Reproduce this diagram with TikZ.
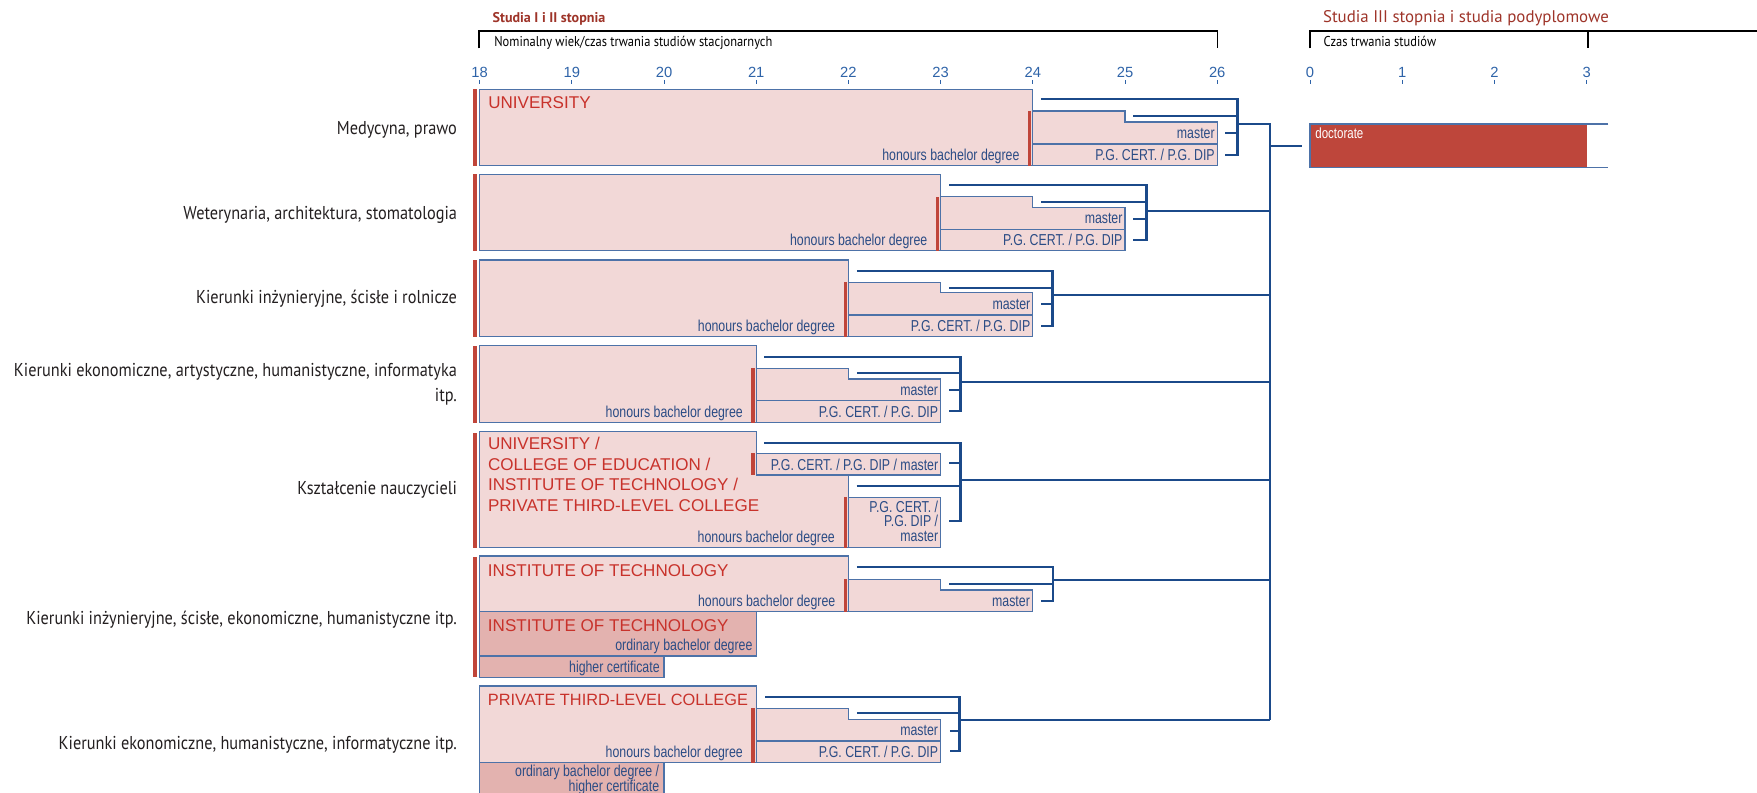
\documentclass[tikz,border=0pt]{standalone}
\usepackage{fontspec}
\usepackage{xcolor}
\setmainfont{PT Sans}[FakeStretch=0.875]
\newfontfamily\headfont{PT Sans}
\newfontfamily\capsfont{Liberation Sans}
\newfontfamily\narrowfont{Liberation Sans}[FakeStretch=0.78]
\definecolor{pinkfill}{HTML}{F2D8D7}
\definecolor{darkpink}{HTML}{E3B2AF}
\definecolor{boxline}{HTML}{4D72A8}
\definecolor{barred}{HTML}{C0453A}
\definecolor{linkblue}{HTML}{1B4A8A}
\definecolor{textblue}{HTML}{2B4C85}
\definecolor{tickblue}{HTML}{2E63A8}
\definecolor{capsred}{HTML}{C8322B}
\definecolor{titlered}{HTML}{9E3429}
\definecolor{docred}{HTML}{BE463B}
\definecolor{labelink}{HTML}{231F20}
\tikzset{
  % boxes of one study path
  studybox/.style={draw=boxline, fill=pinkfill, line width=0.6pt},
  lowbox/.style={draw=boxline, fill=darkpink, line width=0.6pt},
  split/.style={draw=boxline, line width=0.6pt},
  redbar/.style={fill=barred, draw=none},
  % connectors
  link/.style={draw=linkblue, line width=1.3pt},
  bracket/.style={draw=black, line width=1pt},
  tickmark/.style={draw=tickblue, line width=0.5pt},
  % texts
  rowlbl/.style={font=\fontsize{10.6}{14}\selectfont, text=labelink, inner sep=0pt, anchor=base east},
  inst/.style={font=\capsfont\fontsize{9.7}{11.8}\selectfont, text=capsred, inner sep=0pt, anchor=base west},
  deg/.style={font=\narrowfont\fontsize{9}{10}\selectfont, text=textblue, inner sep=0pt, anchor=base east},
  agenum/.style={font=\capsfont\fontsize{8.4}{9}\selectfont, text=tickblue, inner sep=0pt, anchor=base},
  subhead/.style={font=\fontsize{8.1}{9}\selectfont, text=black, inner sep=0pt, anchor=base west},
}

\begin{document}
\begin{tikzpicture}[x=0.02cm, y=-0.02cm]
  \useasboundingbox (0,0) rectangle (1757,793);

  % headers
  \node[font=\headfont\bfseries\fontsize{8}{9}\selectfont, text=titlered, inner sep=0pt, anchor=base west] (head1) at (492.3,22.7) {Studia I i II stopnia};
  \node[font=\headfont\fontsize{9.6}{10}\selectfont, text=titlered, inner sep=0pt, anchor=base west] (head2) at (1322.7,22.7) {Studia III stopnia i studia podyplomowe};
  \node[subhead] (sub1) at (494,47) {Nominalny wiek/czas trwania studiów stacjonarnych};
  \node[subhead] (sub2) at (1323.3,47) {Czas trwania studiów};
  \draw[bracket] (478.8,48.3) -- (478.8,30.7) -- (1217.5,30.7) -- (1217.5,48.3);
  \draw[bracket] (1310,48.3) -- (1310,30.7) -- (1757,30.7);
  \draw[bracket] (1587.7,30.7) -- (1587.7,48.3);

  % age scale and duration scale
  \foreach \a [count=\i from 0] in {18,...,26} {
    \node[agenum] (age\a) at ({479.6+\i*92.2},77.3) {\a};
    \draw[tickmark] ({479.6+\i*92.2},80) -- ({479.6+\i*92.2},84);
  }
  \foreach \d in {0,...,3} {
    \node[agenum] (dur\d) at ({1310+\d*92.2},77.3) {\d};
    \draw[tickmark] ({1310+\d*92.2},80) -- ({1310+\d*92.2},84);
  }

  % row labels
  \node[rowlbl] (lbl1) at (457.3,134.3) {Medycyna, prawo};
  \node[rowlbl] (lbl2) at (457.3,219.3) {Weterynaria, architektura, stomatologia};
  \node[rowlbl] (lbl3) at (457.3,303.3) {Kierunki inżynieryjne, ścisłe i rolnicze};
  \node[rowlbl] (lbl4a) at (457.3,376.7) {Kierunki ekonomiczne, artystyczne, humanistyczne, informatyka};
  \node[rowlbl] (lbl4b) at (457.3,401.7) {itp.};
  \node[rowlbl] (lbl5) at (457.3,494) {Kształcenie nauczycieli};
  \node[rowlbl] (lbl6) at (457.3,624) {Kierunki inżynieryjne, ścisłe, ekonomiczne, humanistyczne itp.};
  \node[rowlbl] (lbl7) at (457.3,749.3) {Kierunki ekonomiczne, humanistyczne, informatyczne itp.};

  % row 1
  \draw[studybox] (479.6,89.3) rectangle (1032.8,165.7);
  \draw[studybox] (1032.8,111) -- (1125,111) -- (1125,122) -- (1217.2,122) -- (1217.2,165.7) -- (1032.8,165.7) -- cycle;
  \draw[split] (1032.8,144) -- (1217.2,144);
  \fill[redbar] (473.3,89.3) rectangle (477,165.7);
  \fill[redbar] (1028,111) rectangle (1031.3,165.7);
  \node[inst] (uni1) at (488,109) {UNIVERSITY};
  \node[deg] (hon1) at (1019.8,160.2) {honours bachelor degree};
  \node[deg] (mas1) at (1215,138.5) {master};
  \node[deg] (pgd1) at (1215,160.2) {P.G. CERT. / P.G. DIP};

  % row 2
  \draw[studybox] (479.6,174.3) rectangle (940.6,250.7);
  \draw[studybox] (940.6,196.7) -- (1032.8,196.7) -- (1032.8,207.7) -- (1125,207.7) -- (1125,250.7) -- (940.6,250.7) -- cycle;
  \draw[split] (940.6,229.7) -- (1125,229.7);
  \fill[redbar] (473.3,174.3) rectangle (477,250.7);
  \fill[redbar] (935.8,196.7) rectangle (939.1,250.7);
  \node[deg] (hon2) at (927.6,245.2) {honours bachelor degree};
  \node[deg] (mas2) at (1122.8,224) {master};
  \node[deg] (pgd2) at (1122.8,245.2) {P.G. CERT. / P.G. DIP};

  % row 3
  \draw[studybox] (479.6,260) rectangle (848.4,336.7);
  \draw[studybox] (848.4,282.3) -- (940.6,282.3) -- (940.6,292.7) -- (1032.8,292.7) -- (1032.8,336.7) -- (848.4,336.7) -- cycle;
  \draw[split] (848.4,315) -- (1032.8,315);
  \fill[redbar] (473.3,260) rectangle (477,336.7);
  \fill[redbar] (843.6,282.3) rectangle (846.9,336.7);
  \node[deg] (hon3) at (835.4,331.2) {honours bachelor degree};
  \node[deg] (mas3) at (1030.6,309.5) {master};
  \node[deg] (pgd3) at (1030.6,331.2) {P.G. CERT. / P.G. DIP};

  % row 4
  \draw[studybox] (479.6,345.7) rectangle (756.2,422.7);
  \draw[studybox] (756.2,368.3) -- (848.4,368.3) -- (848.4,379) -- (940.6,379) -- (940.6,422.7) -- (756.2,422.7) -- cycle;
  \draw[split] (756.2,400.7) -- (940.6,400.7);
  \fill[redbar] (473.3,345.7) rectangle (477,422.7);
  \fill[redbar] (751.4,368.3) rectangle (754.7,422.7);
  \node[deg] (hon4) at (743.2,417.2) {honours bachelor degree};
  \node[deg] (mas4) at (938.4,395.2) {master};
  \node[deg] (pgd4) at (938.4,417.2) {P.G. CERT. / P.G. DIP};

  % row 5
  \draw[studybox] (479.6,431.7) -- (756.2,431.7) -- (756.2,475) -- (848.4,475) -- (848.4,547.7) -- (479.6,547.7) -- cycle;
  \draw[studybox] (756.2,453.3) rectangle (940.6,475);
  \draw[studybox] (848.4,497.3) rectangle (940.6,547.7);
  \fill[redbar] (473.3,432.7) rectangle (477,547.7);
  \fill[redbar] (751.4,453.3) rectangle (754.7,475);
  \fill[redbar] (843.6,497.3) rectangle (846.9,547.7);
  \node[inst] (uni5a) at (487.7,449.3) {UNIVERSITY /};
  \node[inst] (uni5b) at (487.7,470) {COLLEGE OF EDUCATION /};
  \node[inst] (uni5c) at (487.7,490.7) {INSTITUTE OF TECHNOLOGY /};
  \node[inst] (uni5d) at (487.7,511.7) {PRIVATE THIRD-LEVEL COLLEGE};
  \node[deg] (hon5) at (835.2,542.5) {honours bachelor degree};
  \node[deg] (pgd5) at (938.5,470.7) {P.G. CERT. / P.G. DIP / master};
  \node[deg] (pgd5a) at (938.5,512.7) {P.G. CERT. /};
  \node[deg] (pgd5b) at (938.5,526.5) {P.G. DIP /};
  \node[deg] (pgd5c) at (938.5,541.7) {master};

  % row 6
  \draw[studybox] (479.6,556) rectangle (848.4,611.7);
  \draw[studybox] (848.4,579.3) -- (940.6,579.3) -- (940.6,590) -- (1032.8,590) -- (1032.8,611.7) -- (848.4,611.7) -- cycle;
  \draw[lowbox] (479.6,611.7) rectangle (756.2,656);
  \draw[lowbox] (479.6,656) rectangle (664,677.3);
  \fill[redbar] (473.3,556.7) rectangle (477,677.3);
  \fill[redbar] (843.6,579.3) rectangle (846.9,611.7);
  \node[inst] (ins6a) at (487.6,576.7) {INSTITUTE OF TECHNOLOGY};
  \node[deg] (hon6) at (835.6,606.7) {honours bachelor degree};
  \node[deg] (mas6) at (1030.2,606.7) {master};
  \node[inst] (ins6b) at (487.6,631.7) {INSTITUTE OF TECHNOLOGY};
  \node[deg] (ord6) at (752.8,650.7) {ordinary bachelor degree};
  \node[deg] (cer6) at (660,672.7) {higher certificate};

  % row 7
  \draw[studybox] (479.6,686) rectangle (756.2,762.7);
  \draw[studybox] (756.2,708.3) -- (848.4,708.3) -- (848.4,719.3) -- (940.6,719.3) -- (940.6,762.7) -- (756.2,762.7) -- cycle;
  \draw[split] (756.2,741) -- (940.6,741);
  \draw[lowbox] (479.6,762.7) rectangle (664,810);
  \fill[redbar] (751.4,708.3) rectangle (754.7,762.7);
  \node[inst, font=\capsfont\fontsize{9.3}{11}\selectfont] (pri7) at (487.6,705.3) {PRIVATE THIRD-LEVEL COLLEGE};
  \node[deg] (hon7) at (743.2,757) {honours bachelor degree};
  \node[deg] (mas7) at (938.4,735.2) {master};
  \node[deg] (pgd7) at (938.4,757) {P.G. CERT. / P.G. DIP};
  \node[deg] (ord7a) at (659.5,776.7) {ordinary bachelor degree /};
  \node[deg] (ord7b) at (659.5,791.2) {higher certificate};

  % doctorate
  \fill[docred] (1310,124) rectangle (1586.7,167.7);
  \draw[split] (1608.3,124) -- (1310,124) -- (1310,167.7) -- (1608.3,167.7);
  \node[font=\narrowfont\fontsize{8.4}{9}\selectfont, text=white, inner sep=0pt, anchor=base west] (doc) at (1315,138.5) {doctorate};

  % connector ends
  \coordinate (r1a) at (1040.8,99.3);  \coordinate (r1b) at (1133,116.3);
  \coordinate (r1m) at (1225,133.3);   \coordinate (r1p) at (1225,155);
  \coordinate (r1o) at (1237.6,124);
  \coordinate (r2a) at (949,185);      \coordinate (r2b) at (1041,202.3);
  \coordinate (r2m) at (1133,218.7);   \coordinate (r2p) at (1133,240.3);
  \coordinate (r2o) at (1146.4,211);
  \coordinate (r3a) at (856.8,271);    \coordinate (r3b) at (949,287.7);
  \coordinate (r3m) at (1041,304.3);   \coordinate (r3p) at (1041,325.7);
  \coordinate (r3o) at (1052.5,295);
  \coordinate (r4a) at (764,356.7);    \coordinate (r4b) at (856.8,373.3);
  \coordinate (r4m) at (949,389.7);    \coordinate (r4p) at (949,411);
  \coordinate (r4o) at (960.4,382.3);
  \coordinate (r5a) at (764,442.7);    \coordinate (r5b) at (856.7,486);
  \coordinate (r5m) at (949,463.3);    \coordinate (r5p) at (949,520.7);
  \coordinate (r5o) at (960.4,480);
  \coordinate (r6a) at (856.8,567.3);  \coordinate (r6b) at (949,584);
  \coordinate (r6p) at (1041,600.7);
  \coordinate (r6o) at (1053,580);
  \coordinate (r7a) at (765,696.7);    \coordinate (r7b) at (856.8,713.3);
  \coordinate (r7m) at (949.8,731);    \coordinate (r7p) at (949.8,751);
  \coordinate (r7o) at (959.4,720);
  \coordinate (spine) at (1270,720);
  \coordinate (docin) at (1301.7,146);

  % connectors
  \draw[link] (r1a) -| (r1o) |- (r1p);
  \draw[link] (r1b) -- (r1b -| r1o);
  \draw[link] (r1m) -- (r1m -| r1o);
  \draw[link] (r1o) -| (spine);
  \draw[link] (r2a) -| (r2o) |- (r2p);
  \draw[link] (r2b) -- (r2b -| r2o);
  \draw[link] (r2m) -- (r2m -| r2o);
  \draw[link] (r2o) -- (r2o -| spine);
  \draw[link] (r3a) -| (r3o) |- (r3p);
  \draw[link] (r3b) -- (r3b -| r3o);
  \draw[link] (r3m) -- (r3m -| r3o);
  \draw[link] (r3o) -- (r3o -| spine);
  \draw[link] (r4a) -| (r4o) |- (r4p);
  \draw[link] (r4b) -- (r4b -| r4o);
  \draw[link] (r4m) -- (r4m -| r4o);
  \draw[link] (r4o) -- (r4o -| spine);
  \draw[link] (r5a) -| (r5o) |- (r5p);
  \draw[link] (r5b) -- (r5b -| r5o);
  \draw[link] (r5m) -- (r5m -| r5o);
  \draw[link] (r5o) -- (r5o -| spine);
  \draw[link] (r6a) -| (r6o) |- (r6p);
  \draw[link] (r6b) -- (r6b -| r6o);
  \draw[link] (r6o) -- (r6o -| spine);
  \draw[link] (r7a) -| (r7o) |- (r7p);
  \draw[link] (r7b) -- (r7b -| r7o);
  \draw[link] (r7m) -- (r7m -| r7o);
  \draw[link] (r7o) -- (spine);
  \draw[link] (docin -| spine) -- (docin);

\end{tikzpicture}
\end{document}
